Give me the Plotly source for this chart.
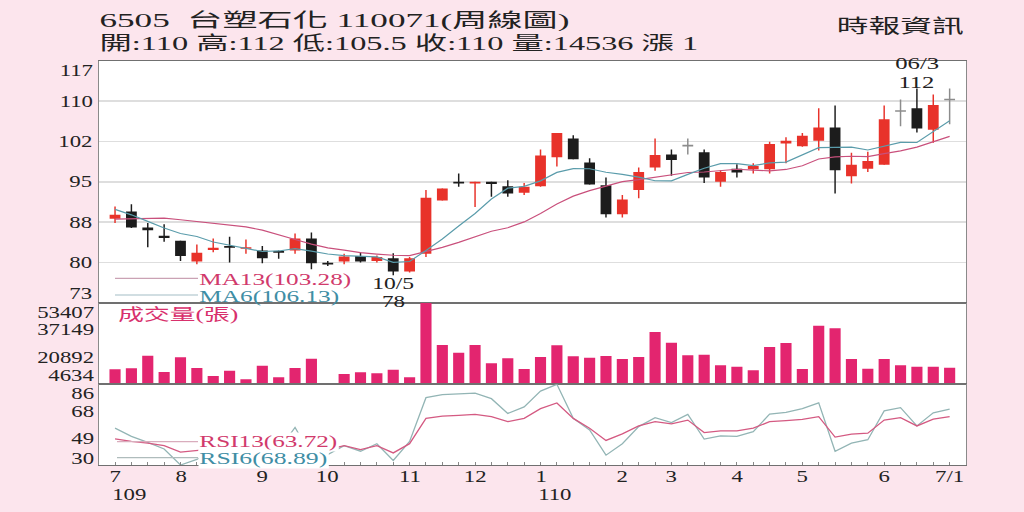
import numpy as np
import pandas as pd
import plotly.graph_objects as go

# ---------------- data ----------------
title_line = "6505  台塑石化 110071(周線圖)"
source_text = "時報資訊"

opens = [88.3, 89.6, 86.7, 85.2, 84.3, 80.5, 82.6, 83.2, 82.8, 82.5,
         82.4, 82.5, 84.7, 80.2, 80.5, 81.5, 80.6, 81.1, 78.7, 81.9,
         91.6, 95.0, 94.7, 95.0, 94.2, 93.0, 94.2, 99.5, 102.9, 98.5,
         94.4, 89.1, 93.5, 97.6, 100.0, 101.6, 100.4, 95.0, 97.4, 97.3,
         97.3, 102.0, 101.5, 102.5, 104.9, 96.0, 97.4, 98.1, 107.9, 108.4,
         104.5, 110.0]
highs = [90.5, 90.9, 87.5, 87.3, 84.3, 83.6, 84.7, 85.0, 84.5, 83.3,
         82.5, 85.6, 85.8, 80.6, 81.9, 82.2, 81.6, 82.0, 81.3, 93.5,
         93.8, 96.5, 95.0, 95.0, 95.3, 94.8, 100.9, 103.9, 103.5, 99.3,
         95.8, 92.6, 97.6, 102.9, 100.9, 102.9, 100.9, 97.1, 98.2, 98.4,
         102.3, 103.1, 103.9, 108.4, 108.9, 100.3, 100.5, 108.9, 110.0, 112.0,
         110.9, 112.0]
lows = [87.5, 86.6, 83.1, 84.1, 80.6, 80.0, 82.2, 80.3, 81.9, 80.2,
        81.0, 81.9, 79.1, 79.7, 80.0, 80.3, 80.3, 78.0, 78.5, 81.3,
        91.6, 94.1, 90.4, 92.3, 92.3, 92.6, 94.1, 97.8, 99.1, 94.5,
        88.5, 88.5, 92.0, 97.0, 96.1, 100.0, 94.8, 94.1, 95.8, 96.5,
        96.5, 98.4, 101.4, 100.7, 92.9, 94.7, 96.8, 98.1, 105.1, 104.0,
        102.1, 105.5]
closes = [89.0, 86.7, 86.2, 84.8, 81.5, 82.1, 83.0, 83.1, 83.1, 81.1,
          82.1, 84.7, 80.2, 80.0, 81.4, 80.5, 81.3, 78.7, 81.1, 92.1,
          93.8, 94.7, 95.0, 94.6, 92.9, 94.1, 99.8, 103.9, 99.1, 94.5,
          89.1, 91.8, 96.8, 99.9, 99.0, 101.6, 95.8, 96.8, 96.7, 97.9,
          101.9, 102.5, 103.4, 104.9, 97.1, 98.1, 98.8, 106.4, 107.9, 104.7,
          109.0, 110.0]
volumes = [13592, 14189, 21754, 12000, 20759, 14388, 9611, 12796, 7620, 15782,
           8814, 14388, 19962, 4800, 10805, 11801, 11203, 13393, 8814, 53407,
           28124, 23546, 28124, 17175, 20161, 13791, 20958, 27925, 21356, 20560,
           21555, 19763, 20958, 35888, 29518, 21953, 22351, 15981, 15185, 12995,
           26930, 29319, 13791, 39670, 38078, 19763, 13990, 19763, 15981, 15185,
           15185, 14536]
rsi6 = [55.5, 49.7, 45.5, 40.9, 29.6, 33.5, 40.0, 41.0, 43.0, 38.5,
        40.0, 56.0, 36.0, 37.0, 43.2, 39.3, 44.6, 32.8, 46.2, 77.0,
        79.1, 79.5, 80.2, 76.3, 65.9, 70.5, 81.6, 86.4, 62.4, 54.3,
        36.5, 44.6, 56.6, 62.9, 59.4, 65.2, 47.8, 50.1, 49.7, 53.1,
        65.4, 66.6, 69.3, 73.3, 39.3, 45.0, 47.4, 67.7, 70.0, 57.1,
        66.3, 68.89]
rsi13 = [48.0, 46.2, 45.0, 43.2, 38.6, 39.7, 41.0, 41.5, 42.5, 40.5,
         41.0, 47.0, 40.0, 40.5, 43.2, 40.4, 43.2, 38.1, 44.6, 62.4,
         64.0, 64.5, 65.2, 63.6, 60.1, 62.4, 69.3, 73.3, 62.4, 55.5,
         46.9, 51.5, 57.1, 60.1, 58.5, 61.2, 52.4, 53.6, 53.6, 55.5,
         60.1, 60.8, 61.7, 63.6, 49.2, 51.3, 52.0, 61.2, 62.9, 57.1,
         61.9, 63.72]
# moving-average values for the first weeks (window not yet full inside the data)
ma6_head = [90.0, 89.0, 87.8, 86.6, 85.6]
ma13_head = [88.2, 88.3, 88.4, 88.4, 88.1, 87.8, 87.5, 87.2, 86.8, 86.2, 85.3, 84.5]

month_start = [0, 4, 9, 13, 18, 22, 26, 31, 34, 38, 42, 47]
month_num = [7, 8, 9, 10, 11, 12, 1, 2, 3, 4, 5, 6]
x_tick_idx = month_start + [51]
x_tick_text = ["7", "8", "9", "10", "11", "12", "1", "2", "3", "4", "5", "6", "7/1"]
year_idx = [0, 26]
year_text = ["109", "110"]

price_range = [73, 117]
price_ticks = ["117", "110", "102", "95", "88", "80", "73"]
vol_range = [4634, 53407]
vol_ticks = ["53407", "37149", "20892", "4634"]
rsi_range = [29.6, 86.4]
rsi_ticks = ["86", "68", "49", "30"]

# ---------------- styles ----------------
FONT = "Liberation Serif, Noto Sans CJK TC, serif"
PINK_BG = "#fce5ed"
RED = "#e8322a"
BLACK = "#1c1c1c"
GREY = "#8c8c8c"
MA13_C = "#c9507c"
MA6_C = "#5a9cab"
VOL_C = "#e3256f"
RSI13_C = "#d45a82"
RSI6_C = "#93b5b5"
TXT = "#222222"

L, R, T, B = 99, 58, 61, 47
W, H = 1024, 512
PW, PH = W - L - R, H - T - B


def PX(px):
    return (px - L) / PW


def PY(py):
    return (H - B - py) / PH


n = len(closes)
idx = list(range(n))
c = pd.Series(closes)
ma6 = c.rolling(6).mean().tolist()
ma6[:len(ma6_head)] = ma6_head
ma13 = c.rolling(13).mean().tolist()
ma13[:len(ma13_head)] = ma13_head

cols = [RED if cl > op else (BLACK if cl < op else GREY) for op, cl in zip(opens, closes)]
min_body = 0.3
body_h = [max(abs(cl - op), min_body) for op, cl in zip(opens, closes)]
body_b = [min(op, cl) - (bh - abs(cl - op)) / 2 for op, cl, bh in zip(opens, closes, body_h)]

fig = go.Figure()
fig.add_trace(go.Bar(x=idx, y=[h - l for h, l in zip(highs, lows)], base=lows, width=0.09,
                     marker=dict(color=cols, line=dict(width=0)), xaxis="x", yaxis="y",
                     hoverinfo="skip", showlegend=False))
fig.add_trace(go.Bar(x=idx, y=body_h, base=body_b, width=0.66,
                     marker=dict(color=cols, line=dict(width=0)), xaxis="x", yaxis="y",
                     showlegend=False))
fig.add_trace(go.Scatter(x=idx, y=ma13, mode="lines", line=dict(color=MA13_C, width=1.2),
                         xaxis="x", yaxis="y", showlegend=False))
fig.add_trace(go.Scatter(x=idx, y=ma6, mode="lines", line=dict(color=MA6_C, width=1.2),
                         xaxis="x", yaxis="y", showlegend=False))
fig.add_trace(go.Bar(x=idx, y=volumes, width=0.68, marker=dict(color=VOL_C, line=dict(width=0)),
                     xaxis="x2", yaxis="y2", showlegend=False))
fig.add_trace(go.Scatter(x=idx, y=rsi6, mode="lines", line=dict(color=RSI6_C, width=1.3),
                         xaxis="x3", yaxis="y3", showlegend=False))
fig.add_trace(go.Scatter(x=idx, y=rsi13, mode="lines", line=dict(color=RSI13_C, width=1.3),
                         xaxis="x3", yaxis="y3", showlegend=False))

anns = []


def A(text, x, y, xref="paper", yref="paper", size=17, color=TXT, xanchor="center",
      yanchor="middle", xshift=0, yshift=0, st=None, bg=None, align="center"):
    d = dict(text=text, x=x, y=y, xref=xref, yref=yref, showarrow=False,
             font=dict(size=size, color=color, family=FONT), xanchor=xanchor,
             yanchor=yanchor, xshift=xshift, yshift=yshift, borderpad=0, align=align)
    if st:
        d["name"] = st
    if bg:
        d["bgcolor"] = bg
    anns.append(d)


# header
line2 = "開:{:g} 高:{:g} 低:{:g} 收:{:g} 量:{:d} 漲 {:g}".format(
    opens[-1], highs[-1], lows[-1], closes[-1], volumes[-1], round(closes[-1] - closes[-2], 2))
A(title_line, PX(98), PY(21), xanchor="left", size=19, st="w:470")
A(line2, PX(98), PY(44), xanchor="left", size=19, st="w:599")
A(source_text, PX(965), PY(27), xanchor="right", size=19, st="w:127")

# y labels (end labels nudged inside the panel, as in the reference)
AX = 16.5
pvals = np.linspace(price_range[1], price_range[0], len(price_ticks))
for i, (t, v) in enumerate(zip(price_ticks, pvals)):
    ys = -9 if i == 0 else (9 if i == len(price_ticks) - 1 else 0)
    A(t, 0, v, yref="y", xanchor="right", xshift=-5, yshift=ys, size=AX, st="s:1.38")
vvals = np.linspace(vol_range[1], vol_range[0], len(vol_ticks))
for i, (t, v) in enumerate(zip(vol_ticks, vvals)):
    ys = -9.5 if i == 0 else (9 if i == len(vol_ticks) - 1 else 0)
    A(t, 0, v, yref="y2", xanchor="right", xshift=-4, yshift=ys, size=AX, st="s:1.38")
rvals = np.linspace(rsi_range[1], rsi_range[0], len(rsi_ticks))
for i, (t, v) in enumerate(zip(rsi_ticks, rvals)):
    ys = -9.5 if i == 0 else (7 if i == len(rsi_ticks) - 1 else 0)
    A(t, 0, v, yref="y3", xanchor="right", xshift=-3, yshift=ys, size=AX, st="s:1.38")

# x labels
for t, xi in zip(x_tick_text, x_tick_idx):
    A(t, xi, 0, xref="x3", yshift=-11.5, size=AX, st="s:1.38")
for t, xi in zip(year_text, year_idx):
    A(t, xi, 0, xref="x3", xanchor="left", xshift=-4, yshift=-29.5, size=AX, st="s:1.38")


def wk_label(i):
    k = max(j for j in range(len(month_start)) if month_start[j] <= i)
    return "{:02d}/{}".format(month_num[k], i - month_start[k] + 1)


lo_i = int(np.argmin(lows))
hi_i = int(np.argmax(highs))
A(wk_label(lo_i), lo_i, lows[lo_i], xref="x", yref="y", yshift=-8, st="w:42")
A("{:g}".format(lows[lo_i]), lo_i, lows[lo_i], xref="x", yref="y", yshift=-26, st="w:23")
A(wk_label(hi_i), hi_i, highs[hi_i], xref="x", yref="y", yshift=25, st="w:44")
A("{:g}".format(highs[hi_i]), hi_i, highs[hi_i], xref="x", yref="y", yshift=6, st="w:36")

# legends
A("MA13({:.2f})".format(ma13[-1]), PX(198), PY(279), xanchor="left", color="#d13a6c", st="w:152")
A("MA6({:.2f})".format(ma6[-1]), PX(198), PY(296), xanchor="left", color="#3f8ea5", st="w:140")
A("成交量(張)", PX(117), PY(314.5), xanchor="left", size=16, color="#d8306c", st="w:120")
A("RSI13({:.2f})".format(rsi13[-1]), PX(198), PY(442), xanchor="left", size=16, color="#d13a6c",
  st="w:138", bg="white")
A("RSI6({:.2f})".format(rsi6[-1]), PX(198), PY(458.5), xanchor="left", size=16, color="#3f8ea5",
  st="w:128", bg="white")

shapes = []
for (x0, x1, yy, col) in [(115, 198, 278.3, "#caa2b4"), (115, 198, 295, "#a3bec6"),
                          (117, 198, 441.7, "#d9adbd"), (117, 198, 457.7, "#afbcbc")]:
    shapes.append(dict(type="line", xref="paper", yref="paper", x0=PX(x0), x1=PX(x1),
                       y0=PY(yy), y1=PY(yy), line=dict(color=col, width=1.2)))

d_rsi = [0, PY(384.3)]
d_vol = [PY(384.3), PY(302.7)]
d_price = [PY(302.7), 1]
xr = [-0.98, 52.0]
ax_common = dict(range=xr, showgrid=False, zeroline=False, showticklabels=False,
                 showline=True, mirror=True, linecolor="#707070", linewidth=1)

fig.update_layout(
    width=W, height=H, margin=dict(l=L, r=R, t=T, b=B),
    paper_bgcolor=PINK_BG, plot_bgcolor="white", barmode="overlay", showlegend=False,
    font=dict(family=FONT, color=TXT), hovermode=False,
    xaxis=dict(ax_common, anchor="y", ticks=""),
    xaxis2=dict(ax_common, anchor="y2", matches="x", ticks=""),
    xaxis3=dict(ax_common, anchor="y3", matches="x", ticks="inside", ticklen=3,
                tickcolor="#888", tickvals=idx),
    yaxis=dict(domain=d_price, range=price_range, tickvals=list(pvals), showticklabels=False,
               showgrid=True, gridcolor="#dedede", gridwidth=1.6, zeroline=False, ticks="",
               showline=True, mirror=True, linecolor="#8a8a8a"),
    yaxis2=dict(domain=d_vol, range=vol_range, showticklabels=False, showgrid=False,
                zeroline=False, ticks="", showline=True, mirror=True, linecolor="#8a8a8a"),
    yaxis3=dict(domain=d_rsi, range=rsi_range, showticklabels=False, showgrid=False,
                zeroline=False, ticks="", showline=True, mirror=True, linecolor="#8a8a8a"),
    annotations=anns, shapes=shapes,
)

post = """
document.body.style.margin = '0';
document.body.style.padding = '0';
document.body.style.overflow = 'hidden';
var gd = document.getElementById('{plot_id}');
function stretchText(){
  if(!gd || !gd.layout) return;
  var anns = gd.layout.annotations || [];
  gd.querySelectorAll('g.annotation').forEach(function(a){
    var i = parseInt(a.getAttribute('data-index'));
    var ann = anns[i]; if(!ann || !ann.name) return;
    var g = a.querySelector('g.annotation-text-g > g') || a.querySelector('g.annotation-text-g');
    if(!g) return;
    var t = g.getAttribute('transform') || '';
    if(t.indexOf('scale(') >= 0) return;
    var txt = g.querySelector('text'); if(!txt) return;
    var tb = txt.getBBox(); var b = g.getBBox();
    var p = ann.name.split(':'); var s = parseFloat(p[1]);
    if(p[0] === 'w' && tb.width > 0) s = s / tb.width;
    var xa = ann.xanchor || 'center';
    var px = xa === 'left' ? b.x : (xa === 'right' ? b.x + b.width : b.x + b.width / 2);
    g.setAttribute('transform', t + ' translate(' + px + ',0) scale(' + s + ',1) translate(' + (-px) + ',0)');
  });
}
if (document.fonts && document.fonts.ready) { document.fonts.ready.then(stretchText); } else { stretchText(); }
gd.on('plotly_afterplot', stretchText);
"""

fig.write_html("out.html", post_script=post,
               config={"displayModeBar": False, "staticPlot": True})
